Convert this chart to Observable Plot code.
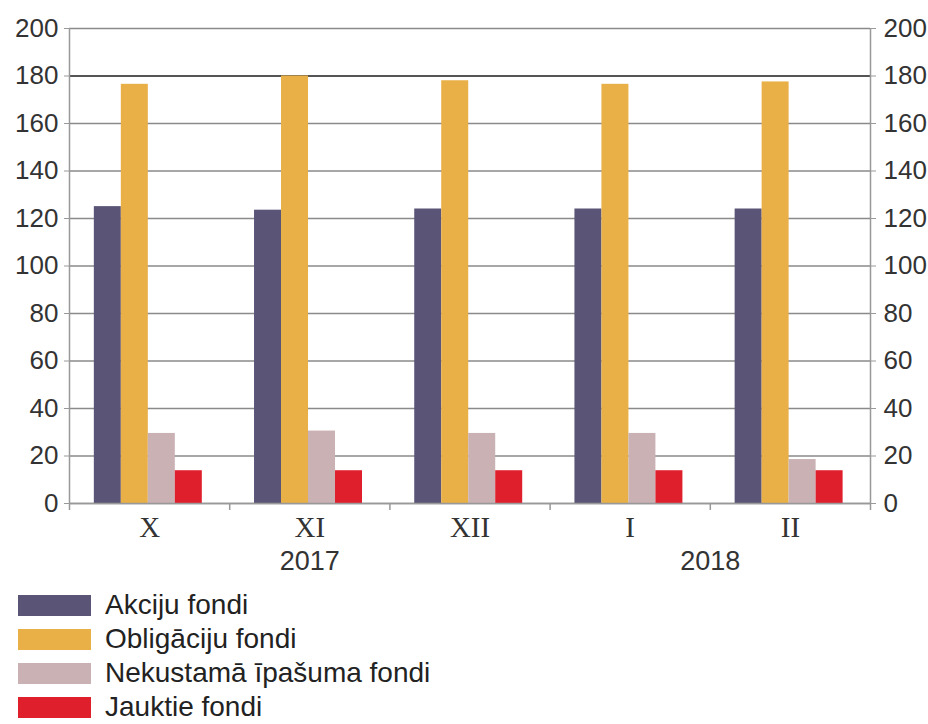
<!DOCTYPE html>
<html>
<head>
<meta charset="utf-8">
<script src="https://cdn.jsdelivr.net/npm/d3@7"></script>
<script src="https://cdn.jsdelivr.net/npm/@observablehq/plot@0.6"></script>
<style>
  body { margin: 0; background: #fff; font-family: "Liberation Sans", Arial, sans-serif; }
  #legend { margin-top: 3px; }
  .row { display: flex; align-items: center; height: 34px; }
  .sw { width: 73px; height: 21px; margin-left: 18px; margin-right: 14px; }
  .lab { font-size: 28px; color: #222; }
</style>
</head>
<body>
<div id="chart"></div>
<div id="legend"></div>
<script>
const months = ["X", "XI", "XII", "I", "II"];
const seriesNames = ["Akciju fondi", "Obligāciju fondi", "Nekustamā īpašuma fondi", "Jauktie fondi"];
const akciju = [125, 123.5, 124, 124, 124];
const obligaciju = [176.5, 180, 178, 176.5, 177.5];
const nekustama = [29.5, 30.5, 29.5, 29.5, 18.5];
const jauktie = [13.8, 13.8, 13.8, 13.8, 13.8];
const colors = ["#5a5577", "#e9b047", "#c9b1b4", "#e01f2d"];
const yTicks = [0, 20, 40, 60, 80, 100, 120, 140, 160, 180, 200];
const yearLabels = ["2017", "2018"];
const yearPositions = [1, 3.5];

const seriesValues = [akciju, obligaciju, nekustama, jauktie];
const barW = 0.1685;
const groupStart = -0.345;
const bars = months.flatMap((m, i) => seriesValues.map((vals, s) => ({i, s, name: seriesNames[s], v: vals[i]})));
const boundaries = d3.range(months.length + 1).map(k => k - 0.5);
const monthIdx = months.map((m, i) => i);

const chart = Plot.plot({
  width: 928,
  height: 585,
  marginLeft: 69,
  marginRight: 58,
  marginTop: 28,
  marginBottom: 82,
  style: {background: "#fff", fontFamily: "Liberation Sans, Arial, sans-serif", color: "#333"},
  x: {type: "linear", domain: [-0.5, months.length - 0.5]},
  y: {domain: [0, 200]},
  color: {domain: seriesNames, range: colors},
  marks: [
    Plot.gridY(yTicks, {stroke: "#8a8a8a", strokeOpacity: 1, strokeWidth: 1.5}),
    Plot.ruleY([180], {stroke: "#3a3a3a", strokeWidth: 1.6}),
    Plot.rectY(bars, {
      x1: d => d.i + groupStart + d.s * barW,
      x2: d => d.i + groupStart + (d.s + 1) * barW,
      y1: 0, y2: "v",
      fill: "name"
    }),
    Plot.ruleY([0], {stroke: "#999", strokeWidth: 1.5}),
    Plot.ruleX(boundaries.filter((b, k) => k === 0 || k === months.length), {y1: 0, y2: 200, stroke: "#999", strokeWidth: 1.5}),
    Plot.axisX({ticks: boundaries, tickSize: 7, tickFormat: () => "", stroke: "#999", strokeWidth: 1.5, label: null}),
    Plot.axisY({anchor: "left", ticks: yTicks, tickSize: 5, tickPadding: 6, fontSize: 26, stroke: "#999", label: null}),
    Plot.axisY({anchor: "right", ticks: yTicks, tickSize: 5, tickPadding: 8, fontSize: 26, stroke: "#999", label: null}),
    Plot.text(monthIdx, {x: d => d, text: d => months[d], frameAnchor: "bottom", dy: 33, fontSize: 29, fontFamily: "Liberation Serif, Times New Roman, serif", fill: "#333"}),
    Plot.text(yearLabels, {x: (d, k) => yearPositions[k], text: d => d, frameAnchor: "bottom", dy: 66, fontSize: 27, fill: "#333"})
  ]
});
document.getElementById("chart").append(chart);

const legend = document.getElementById("legend");
seriesNames.forEach((n, k) => {
  const row = document.createElement("div");
  row.className = "row";
  const sw = document.createElement("div");
  sw.className = "sw";
  sw.style.background = colors[k];
  const lab = document.createElement("span");
  lab.className = "lab";
  lab.textContent = n;
  row.append(sw, lab);
  legend.append(row);
});
</script>
</body>
</html>
